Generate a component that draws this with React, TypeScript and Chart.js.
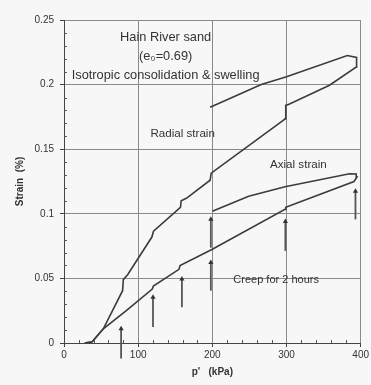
import React, { useEffect, useRef } from "react";
import { Chart, registerables } from "chart.js";

Chart.register(...registerables);

// Radial strain path (loading with creep steps, then unloading)
const radialP = [28, 38, 53, 79, 80, 86, 118.5, 120.7, 157, 158, 165, 197, 198.5, 296, 298, 299, 302, 358, 394, 394.5, 382, 300, 266, 197];
const radialStrain = [0, 0.001, 0.011, 0.0405, 0.049, 0.053, 0.082, 0.0865, 0.105, 0.110, 0.112, 0.126, 0.1315, 0.1725, 0.1735, 0.184, 0.1845, 0.1995, 0.2135, 0.221, 0.2225, 0.206, 0.200, 0.1825];

// Axial strain path
const axialP = [28, 38, 53, 84, 119, 120.5, 155, 156.5, 200, 298, 299, 391, 395, 394, 385, 298, 249, 200];
const axialStrain = [0, 0.001, 0.011, 0.025, 0.0418, 0.044, 0.057, 0.060, 0.0726, 0.1034, 0.105, 0.125, 0.1285, 0.1308, 0.131, 0.121, 0.1136, 0.102];

// Creep arrows (p', strain from -> strain to)
const arrowP = [77, 120, 159, 198, 198, 298.5, 393];
const arrowFrom = [-0.012, 0.0123, 0.0277, 0.0405, 0.0738, 0.0713, 0.0957];
const arrowTo = [0.011, 0.0354, 0.0495, 0.0623, 0.0957, 0.094, 0.1175];

// Annotations
const noteText = ["Hain River sand", "(e\u2080=0.69)", "Isotropic consolidation & swelling", "Radial strain", "Axial strain", "Creep for 2 hours"];
const noteP = [137, 137, 137, 160, 316, 286];
const noteStrain = [0.2367, 0.2215, 0.2068, 0.162, 0.138, 0.0488];
const noteSize = [12.8, 12.8, 12.8, 11.6, 11.6, 11];

const xTicks = [0, 100, 200, 300, 400];
const yTicks = [0, 0.05, 0.1, 0.15, 0.2, 0.25];

const LINE = "#3c3c3c";
const FONT = "'Liberation Sans', Arial, sans-serif";

const notesPlugin = {
  id: "notes",
  afterDatasetsDraw(chart: any) {
    const { ctx, scales } = chart;
    const x = scales.x, y = scales.y;
    ctx.save();
    ctx.fillStyle = "#333";
    ctx.textAlign = "center";
    ctx.textBaseline = "middle";
    noteText.forEach((t, i) => {
      ctx.font = noteSize[i] + "px " + FONT;
      ctx.fillText(t, x.getPixelForValue(noteP[i]), y.getPixelForValue(noteStrain[i]));
    });
    // minor tick marks inside plot
    ctx.strokeStyle = "#555";
    ctx.lineWidth = 1;
    ctx.beginPath();
    for (let v = 20; v < 400; v += 20) {
      if (v % 100 === 0) continue;
      const px = Math.round(x.getPixelForValue(v)) + 0.5;
      ctx.moveTo(px, chart.chartArea.bottom);
      ctx.lineTo(px, chart.chartArea.bottom - 3);
    }
    for (let k = 1; k < 25; k++) {
      if (k % 5 === 0) continue;
      const py = Math.round(y.getPixelForValue(k * 0.01)) + 0.5;
      ctx.moveTo(chart.chartArea.left, py);
      ctx.lineTo(chart.chartArea.left + 3, py);
    }
    ctx.stroke();
    ctx.restore();
  },
};

const bgPlugin = {
  id: "bg",
  beforeDraw(chart: any) {
    const { ctx, width, height } = chart;
    ctx.save();
    ctx.fillStyle = "#f7f7f7";
    ctx.fillRect(0, 0, width, height);
    ctx.restore();
  },
};

export default function App() {
  const ref = useRef<HTMLCanvasElement>(null);
  useEffect(() => {
    if (!ref.current) return;
    const datasets: any[] = [
      {
        data: radialP.map((p, i) => ({ x: p, y: radialStrain[i] })),
        borderColor: LINE, borderWidth: 1.6, pointRadius: 0, showLine: true, tension: 0,
      },
      {
        data: axialP.map((p, i) => ({ x: p, y: axialStrain[i] })),
        borderColor: LINE, borderWidth: 1.6, pointRadius: 0, showLine: true, tension: 0,
      },
    ];
    arrowP.forEach((p, i) => {
      datasets.push({
        data: [{ x: p, y: arrowFrom[i] }, { x: p, y: arrowTo[i] }],
        borderColor: "#555", backgroundColor: "#333", borderWidth: 1.8,
        showLine: true, pointRadius: [0, 3], pointStyle: "triangle",
        pointBorderWidth: 0, clip: false,
      });
    });
    const chart = new Chart(ref.current, {
      type: "scatter",
      data: { datasets },
      plugins: [bgPlugin, notesPlugin],
      options: {
        animation: false,
        responsive: false,
        layout: { padding: { top: 20, right: 8, left: 0, bottom: 0 } },
        plugins: { legend: { display: false }, tooltip: { enabled: false } },
        scales: {
          x: {
            type: "linear", min: 0, max: 400,
            afterFit: (s: any) => { s.height = 42; },
            afterBuildTicks: (s: any) => { s.ticks = xTicks.map((v) => ({ value: v })); },
            ticks: { color: "#333", font: { family: FONT, size: 10 }, padding: 2, maxRotation: 0 },
            grid: { color: "#8a8a8a", lineWidth: 1, tickLength: 4, tickColor: "#444" },
            border: { color: "#444", width: 1 },
            title: { display: true, text: "p'   (kPa)", color: "#333", font: { family: FONT, size: 10, weight: "bold" }, padding: { top: 0, bottom: 7 } },
          },
          y: {
            type: "linear", min: 0, max: 0.25,
            afterFit: (s: any) => { s.width = 64; },
            afterBuildTicks: (s: any) => { s.ticks = yTicks.map((v) => ({ value: v })); },
            ticks: { color: "#333", font: { family: FONT, size: 10 }, padding: 6, callback: (v: any) => String(Number(Number(v).toFixed(2))) },
            grid: { color: "#8a8a8a", lineWidth: 1, tickLength: 4, tickColor: "#444" },
            border: { color: "#444", width: 1 },
            title: { display: true, text: "Strain  (%)", color: "#333", font: { family: FONT, size: 10, weight: "bold" }, padding: { top: 14, bottom: 0 } },
          },
        },
      },
    });
    return () => chart.destroy();
  }, []);
  return (
    <div style={{ position: "fixed", left: 0, top: 0, width: 371, height: 385 }}>
      <canvas ref={ref} width={371} height={385} />
    </div>
  );
}
